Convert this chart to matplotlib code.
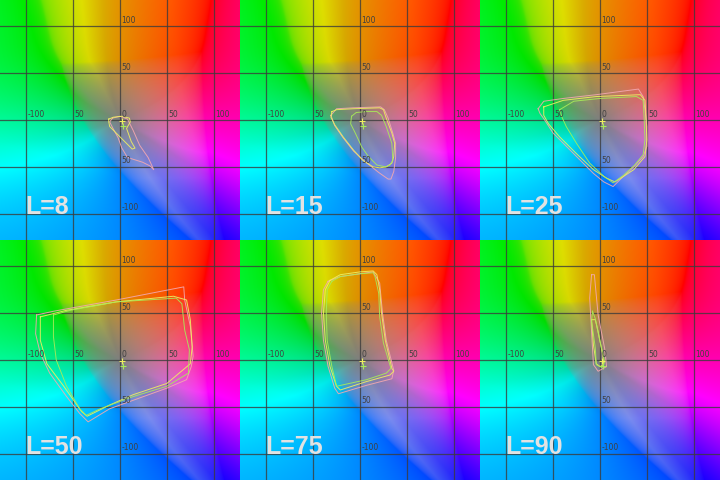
import numpy as np
import matplotlib
matplotlib.use("Agg")
import matplotlib.pyplot as plt
from matplotlib.colors import rgb_to_hsv, hsv_to_rgb

# L* of each cross-section
L_VALUES = [8, 15, 25, 50, 75, 90]

# gamut outlines in the a*b* plane, one list per panel
pink_a = [
    [-8, 0, 8, 14, 21, 30, 36, 32, 24, 8, 2, -2, -8, -11],
    [-31, -25, -7, 22, 26, 30, 35, 38, 38, 36, 33, 30, 20, 5, -7, -18, -27],
    [-66, -60, -39, -4, 41, 46, 48, 50, 50, 46, 36, 21, 14, 4, -7, -21, -36, -50, -59, -64],
    [-89, -71, -4, 68, 69, 75, 78, 76, 71, 50, 14, -11, -34, -43, -57, -75, -85, -90],
    [-34, -21, 14, 21, 24, 28, 36, 34, 7, -23, -27, -34, -39, -41, -39],
    [-9, -11, -9, -7, -2, 7, 5, -2, -5, -6],
]
pink_b = [
    [2, 4, 1, -11, -27, -40, -53, -49, -45, -40, -30, -19, -8, -2],
    [5, 12, 13, 14, 11, 2, -14, -25, -40, -55, -63, -63, -56, -44, -33, -19, -6],
    [12, 20, 23, 27, 33, 25, 11, -7, -28, -39, -50, -64, -71, -66, -57, -43, -28, -14, 0, 7],
    [48, 52, 64, 78, 64, 36, 4, -7, -21, -30, -43, -52, -66, -57, -39, -14, 7, 28],
    [84, 89, 94, 82, 50, 21, -11, -20, -27, -36, -30, -7, 21, 50, 75],
    [91, 66, 30, -5, -12, -7, 12, 48, 80, 91],
]

yellow_a = [
    [-12, -7, 2, 10, 11, 7, 12, 16, 13, 3, -4, -11, -12],
    [-30, -25, -7, 21, 25, 28, 34, 37, 36, 34, 28, 21, 14, 3, -7, -18, -27, -31],
    [-60, -39, -4, 43, 48, 49, 50, 48, 36, 16, 7, -7, -25, -43, -55, -60],
    [-85, -57, -4, 57, 71, 75, 77, 75, 50, 14, -11, -35, -41, -60, -78, -85],
    [-32, -21, 0, 14, 18, 21, 23, 27, 34, 36, 32, 7, -21, -25, -32, -37, -39, -37],
    [-9, -7, -4, 0, 4, 3, -2, -5],
]
yellow_b = [
    [1, 3, 4, 2, -2, -9, -23, -30, -31, -21, -14, -7, -2],
    [9, 11, 12, 13, 11, 2, -14, -25, -39, -46, -50, -51, -50, -43, -32, -18, -5, 3],
    [14, 21, 25, 27, 21, 4, -21, -39, -53, -66, -62, -53, -36, -18, -4, 5],
    [46, 53, 62, 68, 64, 43, 14, -4, -25, -37, -48, -60, -55, -28, -4, 21],
    [85, 91, 94, 95, 91, 75, 50, 21, -9, -12, -16, -23, -32, -28, -7, 21, 50, 75],
    [43, 16, -4, -7, -5, 5, 30, 43],
]

green_a = [
    [],
    [-9, -4, 7, 18, 23, 28, 34, 35, 32, 27, 18, 9, 2, -5, -10],
    [-43, -28, 0, 39, 46, 47, 48, 46, 37, 25, 14, 4, -11, -25, -36, -41],
    [-71, -53, -4, 60, 66, 69, 74, 73, 50, 14, -21, -36, -43, -57, -68, -71],
    [-30, -21, 0, 14, 16, 20, 21, 25, 33, 28, 7, -25, -30, -35, -36, -35],
    [-8, -9, -5, -4, 2, 5, 0, -5],
]
green_b = [
    [],
    [4, 8, 9, 9, 5, -7, -25, -43, -48, -50, -48, -39, -29, -14, -4],
    [11, 20, 23, 25, 21, 4, -21, -37, -48, -59, -67, -60, -46, -25, -7, 4],
    [48, 53, 62, 66, 60, 32, 11, -14, -28, -39, -52, -59, -52, -28, 0, 25],
    [84, 89, 92, 93, 89, 71, 46, 18, -9, -14, -21, -28, -7, 21, 50, 75],
    [52, 41, 13, -5, -8, -2, 20, 44],
]

# white points (yellow and green crosses near the origin)
wp_yellow = (2, -1)
wp_green = (3, -6)

grid_values = [-100, -50, 0, 50, 100]
x_tick_text = ["-100", "50", "0", "50", "100"]
y_tick_text = ["-100", "50", "", "50", "100"]

# background hue correction: computed hue -> hue seen in the picture (degrees)
hue_in = [0, 52, 150, 180, 195, 205, 270, 330, 360]
hue_out = [0, 40, 125, 165, 200, 215, 245, 320, 360]


def lab_to_linear(L, a, b):
    fy = (L + 16.0) / 116.0
    fx = fy + a / 500.0
    fz = fy - b / 200.0

    def finv(t):
        d = 6.0 / 29.0
        return np.where(t > d, t ** 3, 3 * d * d * (t - 4.0 / 29.0))

    X = 0.95047 * finv(fx)
    Y = finv(fy) * np.ones_like(a)
    Z = 1.08883 * finv(fz)
    r = 3.2406 * X - 1.5372 * Y - 0.4986 * Z
    g = -0.9689 * X + 1.8758 * Y + 0.0415 * Z
    bl = 0.0557 * X - 0.2040 * Y + 1.0570 * Z
    return np.stack([r, g, bl], axis=-1)


def hue_table():
    # hue offset for each whole degree, smoothed round the circle
    deg = np.arange(360)
    offset = np.interp(deg, hue_in, hue_out) - deg
    k = np.arange(-40, 41)
    kernel = np.exp(-0.5 * (k / 9.0) ** 2)
    kernel /= kernel.sum()
    padded = np.concatenate([offset[-40:], offset, offset[:40]])
    table = np.convolve(padded, kernel, mode="valid")
    return np.append(table, table[0])


def plane_colours(L, a, b):
    # a*b* plane, out-of-gamut colours pushed into range, saturated ones brightened
    rgb = lab_to_linear(L, a, b)
    rgb = rgb - np.minimum(rgb.min(-1, keepdims=True), 0)
    rgb = rgb / np.maximum(rgb.max(-1, keepdims=True), 1)
    rgb = np.where(rgb <= 0.0031308, 12.92 * rgb, 1.055 * rgb ** (1 / 2.4) - 0.055)
    hsv = rgb_to_hsv(np.clip(rgb, 0, 1))
    s = hsv[..., 1]
    hsv[..., 2] = hsv[..., 2] ** (1.0 - 0.65 * s ** 1.5) * (0.88 + 0.12 * s)
    h = hsv[..., 0] * 360
    h = h + np.interp(h, np.arange(361), hue_table())
    hsv[..., 0] = (h % 360) / 360
    return hsv_to_rgb(hsv)


def main():
    lim = 128
    aa, bb = np.meshgrid(np.linspace(-lim, lim, 256), np.linspace(-lim, lim, 256))
    background = plane_colours(60.0, aa, bb)

    fig = plt.figure(figsize=(7.2, 4.8), dpi=100)

    for i, lv in enumerate(L_VALUES):
        row, col = divmod(i, 3)
        ax = fig.add_axes([col / 3, 0.5 - row * 0.5, 1 / 3, 0.5])
        ax.imshow(background, extent=[-lim, lim, -lim, lim], origin="lower",
                  interpolation="bilinear")
        ax.set_xlim(-lim, lim)
        ax.set_ylim(-lim, lim)
        ax.set_axis_off()

        for v in grid_values:
            ax.axvline(v, color="#3c3c3c", lw=0.9, alpha=0.8)
            ax.axhline(v, color="#3c3c3c", lw=0.9, alpha=0.8)

        for v, t in zip(grid_values, x_tick_text):
            ax.text(v + 1.5, 1.5, t, fontsize=5.5, color="#404040",
                    ha="left", va="bottom")
        for v, t in zip(grid_values, y_tick_text):
            if t:
                ax.text(1.5, v + 1.5, t, fontsize=5.5, color="#404040",
                        ha="left", va="bottom")

        if pink_a[i]:
            ax.plot(pink_a[i] + pink_a[i][:1], pink_b[i] + pink_b[i][:1],
                    color="#f4a8b0", lw=0.7, alpha=0.9)
        if yellow_a[i]:
            ax.plot(yellow_a[i] + yellow_a[i][:1], yellow_b[i] + yellow_b[i][:1],
                    color="#f0f060", lw=0.7, alpha=0.9)
        if green_a[i]:
            ax.plot(green_a[i] + green_a[i][:1], green_b[i] + green_b[i][:1],
                    color="#a8ec58", lw=0.7, alpha=0.9)

        ax.plot(*wp_yellow, marker="+", color="#f0f060", ms=5, mew=0.8)
        ax.plot(*wp_green, marker="+", color="#a8ec58", ms=4, mew=0.8)

        ax.text(-101, -100, f"L={lv}", fontsize=18, fontweight="bold",
                family=["Liberation Sans", "DejaVu Sans"], color="#e2e2e2",
                ha="left", va="baseline")

    fig.savefig("out.png", dpi=100)


if __name__ == "__main__":
    main()
